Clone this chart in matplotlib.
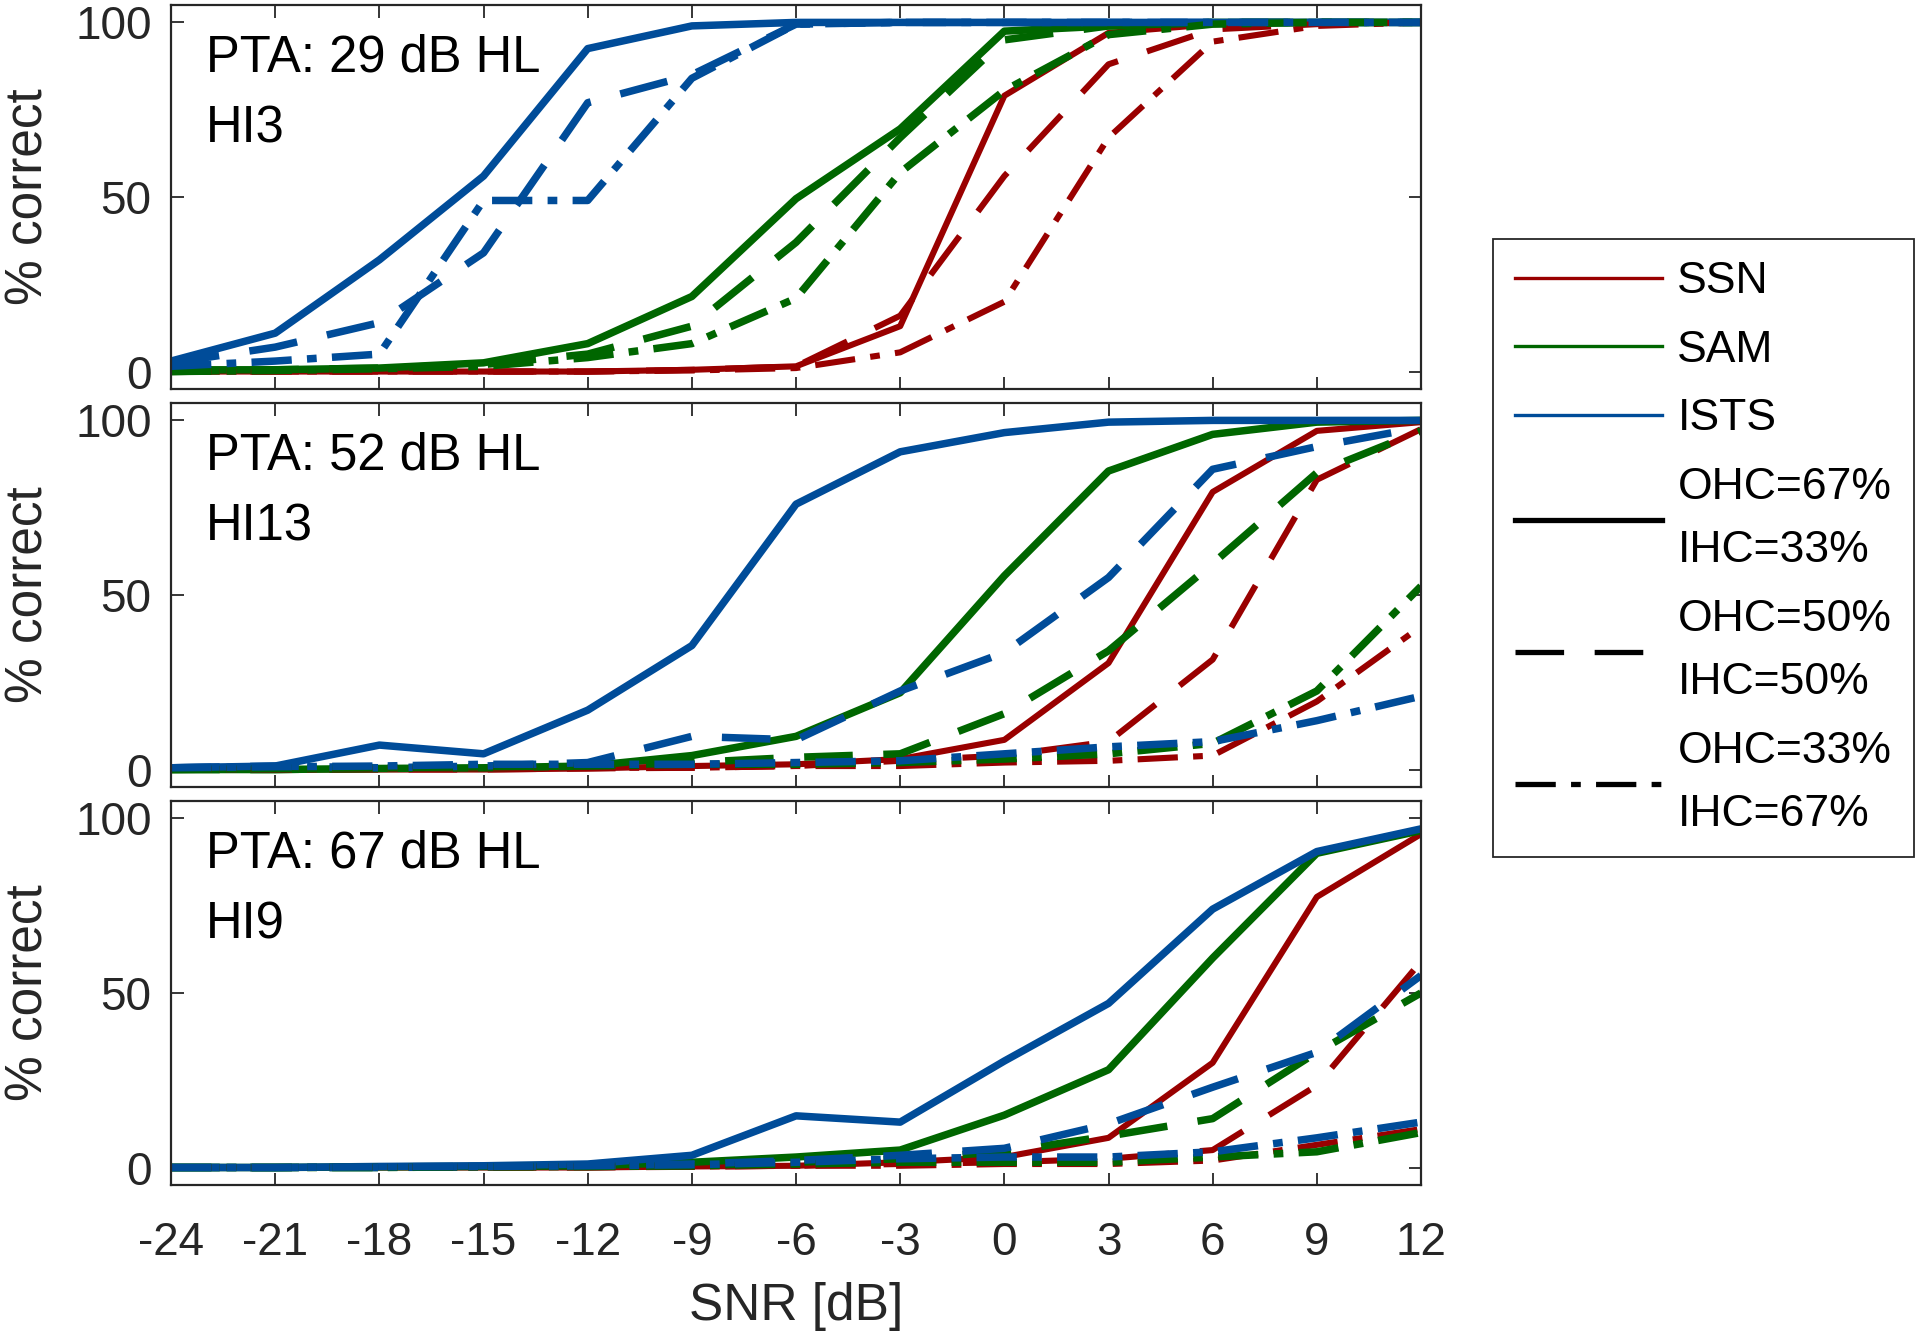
import matplotlib
matplotlib.use("Agg")
import matplotlib.pyplot as plt
from matplotlib.lines import Line2D

plt.rcParams["font.family"] = ["Liberation Sans", "DejaVu Sans"]
plt.rcParams["lines.scale_dashes"] = False
plt.rcParams["axes.unicode_minus"] = False

snr = [-24, -21, -18, -15, -12, -9, -6, -3, 0, 3, 6, 9, 12]

# HI3, PTA 29 dB HL
hi3_ssn = [0, 0, 0, 0, 0, 0.5, 1.5, 13, 79, 97, 99.5, 100, 100]
hi3_sam = [0.5, 0.5, 1, 2.5, 8, 21.5, 49.5, 69.5, 97.5, 99, 100, 100, 100]
hi3_ists = [3, 11, 32, 56, 92.5, 99, 100, 100, 100, 100, 100, 100, 100]
hi3_ssn_50 = [0, 0, 0, 0, 0, 0.5, 1.5, 16, 56, 88, 98, 99.5, 100]
hi3_sam_50 = [0, 0.5, 1, 2, 5, 13, 37, 67, 95, 99, 100, 100, 100]
hi3_ists_50 = [2.5, 7, 14, 34, 77, 85, 99.5, 100, 100, 100, 100, 100, 100]
hi3_ssn_33 = [0, 0, 0, 0, 0, 0.3, 1, 5.5, 20, 67, 94.5, 99, 100]
hi3_sam_33 = [0, 0.3, 0.8, 1.5, 4, 8, 21, 57, 80.5, 96.5, 99.5, 100, 100]
hi3_ists_33 = [1.5, 3, 5, 49, 49, 84, 99.5, 100, 100, 100, 100, 100, 100]

# HI13, PTA 52 dB HL
hi13_ssn = [0, 0, 0, 0, 0.3, 1, 1.5, 3, 8.5, 30.5, 79.5, 97, 99.5]
hi13_sam = [0, 0, 0.3, 0.5, 1, 4, 9.5, 22, 55.5, 85.5, 96, 99.5, 100]
hi13_ists = [0.5, 1, 7, 4.5, 17, 35.5, 76, 91, 96.5, 99.5, 100, 100, 100]
hi13_ssn_50 = [0, 0, 0, 0, 0.3, 0.5, 1, 2.5, 4, 8, 31.5, 83, 97.5]
hi13_sam_50 = [0, 0, 0.3, 0.5, 1, 2, 3.5, 4.5, 16, 34, 59, 85, 97]
hi13_ists_50 = [0.5, 1, 0.5, 1, 2, 9.5, 8.5, 22.5, 33.5, 55, 86, 92.5, 98]
hi13_ssn_33 = [0, 0, 0.2, 0.3, 0.5, 0.5, 1, 1, 2, 2.5, 4, 19.5, 41]
hi13_sam_33 = [0, 0.3, 0.5, 0.8, 1, 1.5, 1.5, 2, 3, 4.5, 7.5, 22.5, 52.5]
hi13_ists_33 = [0.5, 0.8, 1, 1.5, 1.5, 1.5, 2, 2.5, 4.5, 6.5, 8, 14, 21]

# HI9, PTA 67 dB HL
hi9_ssn = [0, 0, 0, 0, 0, 0.3, 0.5, 1.5, 3, 8.5, 30, 77.5, 95.5]
hi9_sam = [0, 0, 0.2, 0.3, 0.5, 1.5, 3, 5, 15, 28, 60, 90, 96.5]
hi9_ists = [0, 0, 0.3, 0.5, 1, 3.5, 14.8, 13, 30.5, 47, 74, 90.5, 97]
hi9_ssn_50 = [0, 0, 0, 0, 0, 0.2, 0.5, 1, 1.5, 2.5, 5, 23.5, 59]
hi9_sam_50 = [0, 0, 0, 0.2, 0.3, 0.5, 1.5, 2.5, 4.5, 9, 14, 33, 50]
hi9_ists_50 = [0, 0, 0, 0.3, 0.5, 1, 2, 3.5, 5.5, 12.5, 23, 33, 55]
hi9_ssn_33 = [0, 0, 0, 0, 0.2, 0.3, 0.5, 0.5, 1, 1, 2, 6.5, 11]
hi9_sam_33 = [0, 0, 0, 0.2, 0.3, 0.5, 1, 1.5, 1.5, 1.5, 3, 4.5, 10]
hi9_ists_33 = [0, 0, 0.2, 0.3, 0.5, 0.8, 1.5, 2.5, 3, 3, 4.5, 8.5, 13]

panel_titles = ["PTA: 29 dB HL", "PTA: 52 dB HL", "PTA: 67 dB HL"]
panel_ids = ["HI3", "HI13", "HI9"]
noise_names = ["SSN", "SAM", "ISTS"]
condition_names = ["OHC=67%\nIHC=33%", "OHC=50%\nIHC=50%", "OHC=33%\nIHC=67%"]

panels = [
    [[hi3_ssn, hi3_sam, hi3_ists], [hi3_ssn_50, hi3_sam_50, hi3_ists_50], [hi3_ssn_33, hi3_sam_33, hi3_ists_33]],
    [[hi13_ssn, hi13_sam, hi13_ists], [hi13_ssn_50, hi13_sam_50, hi13_ists_50], [hi13_ssn_33, hi13_sam_33, hi13_ists_33]],
    [[hi9_ssn, hi9_sam, hi9_ists], [hi9_ssn_50, hi9_sam_50, hi9_ists_50], [hi9_ssn_33, hi9_sam_33, hi9_ists_33]],
]

colors = ["#990000", "#006600", "#004C99"]
widths = [4.4, 5.4, 5.4]
styles = ["-", (0, (35, 22)), (0, (29, 11, 7, 11))]
axis_color = "#262626"

fig = plt.figure(figsize=(19.2, 13.4), dpi=100)
left, width, height = 0.0891, 0.651, 0.2866
bottoms = [0.7097, 0.4127, 0.1157]

for p, bottom in enumerate(bottoms):
    ax = fig.add_axes([left, bottom, width, height])
    for c, curves in enumerate(panels[p]):
        for n, values in enumerate(curves):
            ax.plot(snr, values, color=colors[n], lw=widths[n], linestyle=styles[c],
                    solid_capstyle="butt", dash_capstyle="butt")
    ax.set_xlim(-24, 12)
    ax.set_ylim(-5, 105)
    ax.set_xticks(snr)
    ax.set_yticks([0, 50, 100])
    ax.tick_params(direction="in", top=True, right=True, length=9, width=1.3,
                   labelsize=33, colors=axis_color)
    ax.tick_params(axis="y", pad=14)
    ax.tick_params(axis="x", pad=26, labelbottom=(p == 2))
    for s in ax.spines.values():
        s.set_color(axis_color)
        s.set_linewidth(1.6)
    ax.set_ylabel("% correct", fontsize=37, color=axis_color)
    ax.yaxis.set_label_coords(-0.094, 0.5)
    ax.text(0.028, 0.826, panel_titles[p], transform=ax.transAxes, fontsize=36.5,
            va="baseline", ha="left")
    ax.text(0.028, 0.643, panel_ids[p], transform=ax.transAxes, fontsize=36.5,
            va="baseline", ha="left")
    if p == 2:
        ax.set_xlabel("SNR [dB]", fontsize=37, color=axis_color, labelpad=12)

handles = [Line2D([], [], color=col, lw=2.4) for col in colors]
handles += [Line2D([], [], color="black", lw=3.8, linestyle=st) for st in styles]
labels = noise_names + condition_names
leg = fig.legend(handles, labels, loc="upper left", bbox_to_anchor=(0.7776, 0.8216),
                 borderaxespad=0, fontsize=32, handlelength=3.3, handletextpad=0.35,
                 labelspacing=0.62, borderpad=0.5, fancybox=False, framealpha=1)
for t in leg.get_texts():
    t.set_linespacing(1.7)
leg.get_frame().set_edgecolor(axis_color)
leg.get_frame().set_linewidth(1.3)

fig.savefig("out.png", dpi=100)
